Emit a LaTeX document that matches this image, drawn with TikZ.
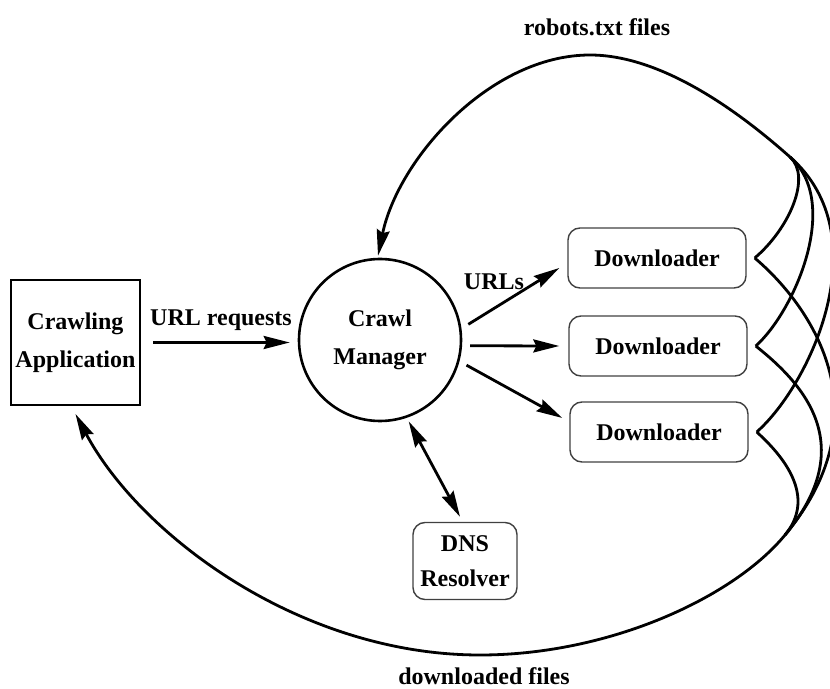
\documentclass[tikz,border=0pt]{standalone}
\usepackage{fontspec}
\setmainfont{Liberation Serif}
\usetikzlibrary{arrows.meta,calc}
\begin{document}
\begin{tikzpicture}[x=0.5pt,y=-0.5pt,
  >={Stealth[length=13pt,width=6.5pt,inset=1.5pt]},
  lbl/.style={font=\fontsize{12}{19}\selectfont\bfseries, align=center},
  dl/.style={lbl, draw=black!75, line width=0.7pt, rounded corners=6pt, minimum width=89pt, minimum height=30pt, inner sep=0pt},
  arr/.style={line width=1.4pt, ->},
  crv/.style={line width=1.4pt},
]
\useasboundingbox (0,0) rectangle (830,689);
% nodes
\node[lbl, draw, line width=1pt, minimum width=64.5pt, minimum height=62.5pt, inner sep=0pt] (app) at (75.5,342.5) {Crawling\\Application};
\node[lbl, draw, circle, line width=1.3pt, minimum size=81pt, inner sep=0pt] (mgr) at (380,340) {Crawl\\Manager};
\node[dl] (d1) at (657,258) {Downloader};
\node[dl] (d2) at (658,346) {Downloader};
\node[dl] (d3) at (659,432) {Downloader};
\node[dl, font=\fontsize{12}{17.5}\selectfont\bfseries, minimum width=52pt, minimum height=38.5pt] (dns) at (465,561) {DNS\\Resolver};
% labels
\node[lbl] (lreq) at (221,320) {URL requests};
\node[lbl] (lurls) at (494,282) {URLs};
\node[lbl] (lrob) at (597,27) {robots.txt files};
\node[lbl, inner sep=0pt] (ldl) at (484,676) {downloaded files};
% helper coordinates
\coordinate (T) at (790,157);
\coordinate (B) at (785,535);
\coordinate (topmid) at (590,55);
\coordinate (botmid) at (480,655);
\coordinate (r1) at ($(d1.east)+(8,0)$);
\coordinate (r2) at ($(d2.east)+(8,0)$);
\coordinate (r3) at ($(d3.east)+(8,0)$);
% straight connectors
\draw[arr, shorten <=6pt, shorten >=4pt] (app.east) -- (app.east -| mgr.west);
\draw[arr, shorten <=4pt] (mgr.8) -- ($(d1.west)+(-8,10)$);
\draw[arr, shorten <=4pt] (mgr.-4) -- ($(d2.west)+(-9,0)$);
\draw[arr, shorten <=4pt] (mgr.-15) -- ($(d3.west)+(-7,-14)$);
\draw[line width=1.4pt, <->, shorten <=2pt] (mgr.-71) -- ($(dns.north)+(-5,-5)$);
% right-side curves
\draw[crv] (r1) .. controls (789,229) and (812,177) .. (T);
\draw[crv] (r2) .. controls (794,312) and (842,203) .. (T);
\draw[crv] (r3) .. controls (810,385) and (880,236) .. (T);
\draw[crv] (r1) .. controls (809,304) and (887,412) .. (B);
\draw[crv] (r2) .. controls (805,385) and (859,446) .. (B);
\draw[crv] (r3) .. controls (790,462) and (814,500) .. (B);
% big arcs
\draw[arr] (T) .. controls (745,117) and (665,55) .. (topmid) .. controls (490,55) and (398,159) .. ($(mgr.north)+(-2,-2)$);
\draw[arr] (B) .. controls (734,597) and (610,655) .. (botmid) .. controls (300,655) and (140,535) .. ($(app.south)+(0,8)$);
\end{tikzpicture}
\end{document}
